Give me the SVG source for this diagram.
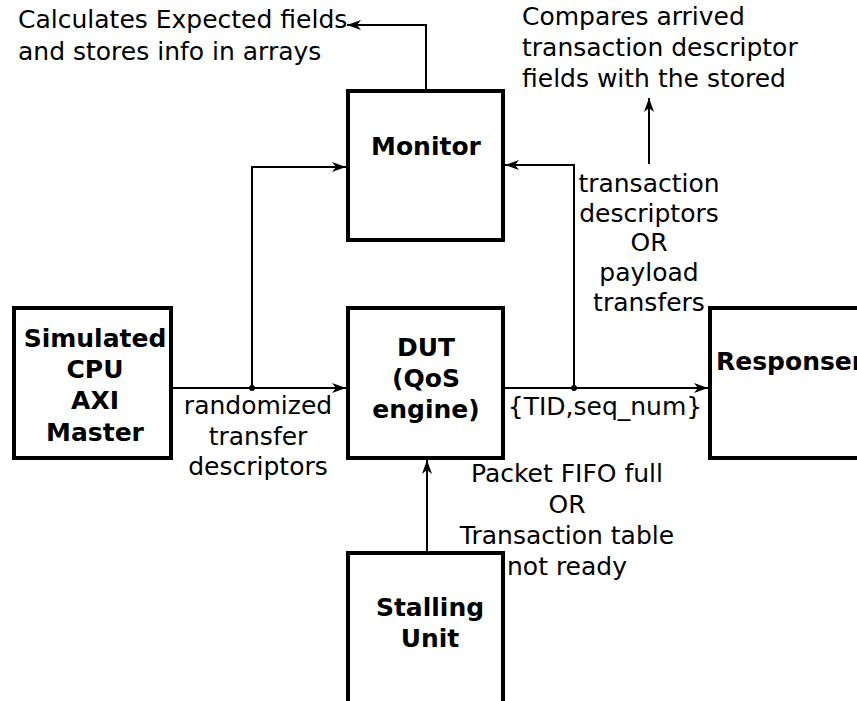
<svg xmlns="http://www.w3.org/2000/svg" width="857" height="701" viewBox="0 0 857 701">
  <style>
    .box { fill: #fff; stroke: #000; stroke-width: 4; }
    .wire { fill: none; stroke: #000; stroke-width: 2; }
    .lbl { font-family: "DejaVu Sans", sans-serif; font-size: 25px; fill: #000; }
    .name { font-family: "DejaVu Sans", sans-serif; font-size: 25px; font-weight: bold; fill: #000; text-anchor: middle; }
    .mid { text-anchor: middle; }
  </style>
  <defs>
    <marker id="arrow" viewBox="0 0 14 10" refX="14" refY="5" markerWidth="14" markerHeight="10" markerUnits="userSpaceOnUse" orient="auto">
      <path d="M0,0 L14,5 L0,10 L4,5 z" fill="#000"/>
    </marker>
  </defs>

  <rect width="857" height="701" fill="#fff"/>

  <g id="connectors">
    <path class="wire" d="M172,388 H346" marker-end="url(#arrow)"/>
    <path class="wire" d="M252,388 V167 H346" marker-end="url(#arrow)"/>
    <circle cx="252" cy="388" r="3"/>
    <path class="wire" d="M504,388 H708" marker-end="url(#arrow)"/>
    <path class="wire" d="M574,388 V165 H505" marker-end="url(#arrow)"/>
    <circle cx="574" cy="388" r="3"/>
    <path class="wire" d="M426,90 V25 H347" marker-end="url(#arrow)"/>
    <path class="wire" d="M649,164 V98" marker-end="url(#arrow)"/>
    <path class="wire" d="M427,552 V460" marker-end="url(#arrow)"/>
  </g>

  <g id="monitor">
    <rect class="box" x="348" y="91" width="155" height="149"/>
    <text class="name" x="426" y="155">Monitor</text>
  </g>

  <g id="cpu-master">
    <rect class="box" x="14" y="308" width="157" height="150"/>
    <text class="name" x="95" y="347">Simulated</text>
    <text class="name" x="95" y="378">CPU</text>
    <text class="name" x="95" y="409">AXI</text>
    <text class="name" x="95" y="441">Master</text>
  </g>

  <g id="dut">
    <rect class="box" x="348" y="308" width="155" height="150"/>
    <text class="name" x="426" y="356">DUT</text>
    <text class="name" x="426" y="387">(QoS</text>
    <text class="name" x="426" y="418">engine)</text>
  </g>

  <g id="responser">
    <rect class="box" x="710" y="308" width="160" height="150"/>
    <text class="name" x="716" y="370" style="text-anchor:start">Responser</text>
  </g>

  <g id="stalling-unit">
    <rect class="box" x="348" y="553" width="155" height="160"/>
    <text class="name" x="430" y="616">Stalling</text>
    <text class="name" x="430" y="647">Unit</text>
  </g>

  <g id="labels">
    <text class="lbl" x="18" y="28">Calculates Expected fields</text>
    <text class="lbl" x="18" y="60">and stores info in arrays</text>

    <text class="lbl" x="522" y="25">Compares arrived</text>
    <text class="lbl" x="522" y="56">transaction descriptor</text>
    <text class="lbl" x="522" y="87">fields with the stored</text>

    <text class="lbl mid" x="649" y="192">transaction</text>
    <text class="lbl mid" x="649" y="222">descriptors</text>
    <text class="lbl mid" x="649" y="251">OR</text>
    <text class="lbl mid" x="649" y="281">payload</text>
    <text class="lbl mid" x="649" y="311">transfers</text>

    <text class="lbl mid" x="258" y="414">randomized</text>
    <text class="lbl mid" x="258" y="445">transfer</text>
    <text class="lbl mid" x="258" y="475">descriptors</text>

    <text class="lbl mid" x="605" y="415">{TID,seq_num}</text>

    <text class="lbl mid" x="567" y="482">Packet FIFO full</text>
    <text class="lbl mid" x="567" y="513">OR</text>
    <text class="lbl mid" x="567" y="544">Transaction table</text>
    <text class="lbl mid" x="567" y="575">not ready</text>
  </g>
</svg>
